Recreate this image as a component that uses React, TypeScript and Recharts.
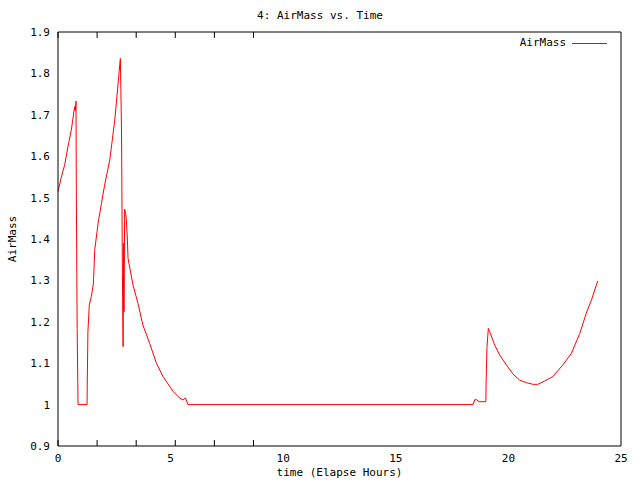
import { Line, LineChart, XAxis, YAxis } from "recharts";

// elapsed time (hours) and air mass
const elapsedHours = [
  0.0, 0.15, 0.3, 0.45, 0.59, 0.74, 0.77, 0.8, 0.81, 0.85, 0.89, 1.29, 1.3, 1.33, 1.39, 1.48,
  1.57, 1.6, 1.63, 1.78, 1.93, 2.07, 2.3, 2.52, 2.67, 2.74, 2.77, 2.82, 2.86, 2.89, 2.92, 2.93,
  2.96, 3.0, 3.03, 3.08, 3.11, 3.33, 3.55, 3.77, 4.07, 4.37, 4.66, 5.11, 5.4, 5.55, 5.66, 5.77,
  18.43, 18.51, 18.58, 18.7, 19.0, 19.01, 19.05, 19.11, 19.17, 19.39, 19.61, 19.91, 20.2, 20.5,
  20.8, 21.09, 21.31, 21.61, 21.98, 22.42, 22.8, 23.17, 23.46, 23.69, 23.97,
];
const airMass = [
  1.514, 1.55, 1.58, 1.625, 1.663, 1.72, 1.71, 1.733, 1.552, 1.184, 1.0, 1.0, 1.057, 1.178, 1.241,
  1.261, 1.291, 1.33, 1.373, 1.438, 1.486, 1.53, 1.591, 1.687, 1.776, 1.82, 1.836, 1.663, 1.317,
  1.14, 1.39, 1.224, 1.472, 1.462, 1.45, 1.4, 1.353, 1.289, 1.245, 1.192, 1.148, 1.1, 1.068,
  1.032, 1.016, 1.011, 1.016, 1.0, 1.0, 1.012, 1.012, 1.007, 1.007, 1.052, 1.14, 1.184, 1.176,
  1.144, 1.12, 1.096, 1.074, 1.059, 1.053, 1.049, 1.049, 1.057, 1.068, 1.096, 1.124, 1.172,
  1.221, 1.253, 1.299,
];
const xTicks = [0, 5, 10, 15, 20, 25];
const yTicks = [0.9, 1.0, 1.1, 1.2, 1.3, 1.4, 1.5, 1.6, 1.7, 1.8, 1.9];

const data = elapsedHours.map((t, i) => ({ t, airMass: airMass[i] }));

const mono = '"DejaVu Sans Mono", monospace';
const tickStyle = { fill: "#000", fontSize: 11, fontFamily: mono };
const black = { stroke: "#000", strokeWidth: 1 };

function yLabel(v: number) {
  return String(Number(v.toFixed(1)));
}

// mirrored axes only draw the inward tick marks, no labels
function NoLabel() {
  return <g />;
}

export default function App() {
  return (
    <div
      style={{
        position: "absolute",
        left: 0,
        top: 0,
        width: 640,
        height: 480,
        background: "#fff",
        fontFamily: mono,
        fontSize: 11,
        color: "#000",
      }}
    >
      <LineChart width={640} height={480} data={data} margin={{ top: 32, right: 19, left: 0, bottom: 0 }}>
        <XAxis
          xAxisId="b"
          type="number"
          dataKey="t"
          domain={[0, 25]}
          ticks={xTicks}
          allowDataOverflow
          height={34}
          tickLine={false}
          axisLine={black}
          tick={tickStyle}
        />
        <XAxis
          xAxisId="bm"
          type="number"
          domain={[0, 25]}
          ticks={xTicks}
          mirror
          height={34}
          tick={<NoLabel />}
          axisLine={false}
          tickLine={black}
        />
        <XAxis
          xAxisId="t"
          type="number"
          orientation="top"
          domain={[0, 25]}
          ticks={xTicks}
          mirror
          tick={<NoLabel />}
          axisLine={black}
          tickLine={black}
        />
        <YAxis
          yAxisId="l"
          type="number"
          domain={[0.9, 1.9]}
          ticks={yTicks}
          allowDataOverflow
          width={58}
          tickLine={false}
          axisLine={black}
          tick={tickStyle}
          tickFormatter={yLabel}
        />
        <YAxis
          yAxisId="lm"
          type="number"
          domain={[0.9, 1.9]}
          ticks={yTicks}
          mirror
          tick={<NoLabel />}
          axisLine={false}
          tickLine={black}
        />
        <YAxis
          yAxisId="r"
          type="number"
          orientation="right"
          domain={[0.9, 1.9]}
          ticks={yTicks}
          mirror
          tick={<NoLabel />}
          axisLine={black}
          tickLine={black}
        />
        <Line
          xAxisId="b"
          yAxisId="l"
          type="linear"
          dataKey="airMass"
          stroke="#ff0000"
          strokeWidth={1}
          dot={false}
          isAnimationActive={false}
        />
      </LineChart>

      <div style={{ position: "absolute", left: 0, width: 640, top: 9, textAlign: "center" }}>
        4: AirMass vs. Time
      </div>
      <div style={{ position: "absolute", left: 58, width: 563, top: 466, textAlign: "center" }}>
        time (Elapse Hours)
      </div>
      <div
        style={{
          position: "absolute",
          left: 12,
          top: 239,
          transform: "translate(-50%, -50%) rotate(-90deg)",
          whiteSpace: "nowrap",
        }}
      >
        AirMass
      </div>
      <div
        style={{
          position: "absolute",
          right: 640 - 566,
          top: 36,
          whiteSpace: "nowrap",
        }}
      >
        AirMass
      </div>
      <div style={{ position: "absolute", left: 572, top: 43, width: 35, height: 0, borderTop: "1px solid #ff0000" }} />
    </div>
  );
}
